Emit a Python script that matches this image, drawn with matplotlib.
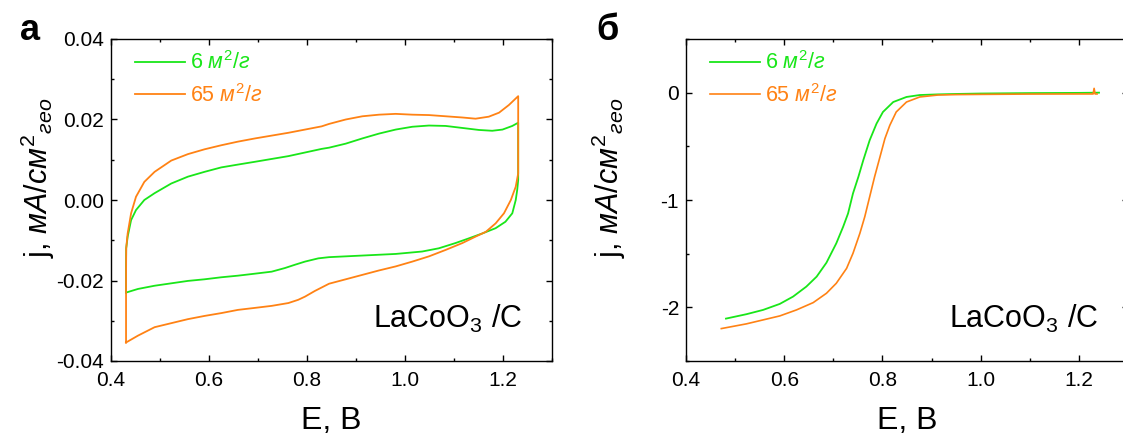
import matplotlib
matplotlib.use("Agg")
import matplotlib.pyplot as plt
from matplotlib.ticker import MultipleLocator, FormatStrFormatter

plt.rcParams['font.family'] = ['Liberation Sans', 'DejaVu Sans']
plt.rcParams['mathtext.fontset'] = 'custom'
plt.rcParams['mathtext.rm'] = 'Liberation Sans'
plt.rcParams['mathtext.it'] = 'Liberation Sans:italic'
plt.rcParams['mathtext.bf'] = 'Liberation Sans:bold'

GREEN = '#19e619'
ORANGE = '#ff8214'

# ---- Panel a: cyclic voltammograms ----
cv6_E = [0.4307, 0.4307, 0.431, 0.434, 0.441, 0.451, 0.468, 0.489, 0.523, 0.557, 0.591, 0.625, 0.659,
         0.694, 0.728, 0.762, 0.796, 0.830, 0.845, 0.879, 0.913, 0.947, 0.981, 1.015, 1.049, 1.083,
         1.117, 1.151, 1.178, 1.199, 1.219, 1.231,
         1.231, 1.229, 1.226, 1.219, 1.205, 1.185, 1.158, 1.131, 1.103, 1.069, 1.035, 0.981, 0.913,
         0.845, 0.823, 0.796, 0.775, 0.755, 0.728, 0.694, 0.659, 0.625, 0.591, 0.557, 0.523, 0.489,
         0.455, 0.4307]
cv6_j = [-0.0230, -0.0160, -0.0120, -0.0091, -0.0050, -0.0025, 0.0000, 0.0017, 0.0041, 0.0058, 0.0070, 0.0081, 0.0088,
         0.0095, 0.0102, 0.0109, 0.0118, 0.0127, 0.0130, 0.0140, 0.0153, 0.0165, 0.0175, 0.0182, 0.0185, 0.0184,
         0.0179, 0.0174, 0.0172, 0.0175, 0.0184, 0.0192,
         0.0050, 0.0025, 0.0000, -0.0033, -0.0054, -0.0070, -0.0083, -0.0095, -0.0107, -0.0120, -0.0128, -0.0134, -0.0138,
         -0.0142, -0.0145, -0.0153, -0.0161, -0.0169, -0.0178, -0.0183, -0.0188, -0.0192, -0.0197, -0.0201, -0.0207, -0.0213,
         -0.0221, -0.0230]

cv65_E = [0.4307, 0.4307, 0.431, 0.434, 0.441, 0.451, 0.468, 0.489, 0.523, 0.557, 0.591, 0.625, 0.659,
          0.694, 0.728, 0.762, 0.796, 0.830, 0.845, 0.879, 0.913, 0.947, 0.981, 1.015, 1.049, 1.083,
          1.117, 1.144, 1.171, 1.192, 1.212, 1.231,
          1.231, 1.226, 1.216, 1.202, 1.185, 1.165, 1.144, 1.117, 1.083, 1.049, 1.015, 0.981, 0.947,
          0.913, 0.879, 0.845, 0.816, 0.796, 0.782, 0.762, 0.728, 0.694, 0.659, 0.625, 0.591, 0.557,
          0.523, 0.489, 0.455, 0.4307]
cv65_j = [-0.0354, -0.0200, -0.0120, -0.0083, -0.0033, 0.0008, 0.0045, 0.0070, 0.0098, 0.0114, 0.0126, 0.0136, 0.0145,
          0.0153, 0.0160, 0.0167, 0.0175, 0.0183, 0.0189, 0.0200, 0.0208, 0.0212, 0.0214, 0.0212, 0.0211, 0.0208,
          0.0205, 0.0202, 0.0207, 0.0217, 0.0236, 0.0258,
          0.0066, 0.0033, 0.0000, -0.0033, -0.0058, -0.0079, -0.0091, -0.0107, -0.0124, -0.0140, -0.0153, -0.0165, -0.0175,
          -0.0186, -0.0197, -0.0208, -0.0226, -0.0240, -0.0248, -0.0256, -0.0263, -0.0268, -0.0273, -0.0281, -0.0288, -0.0296,
          -0.0306, -0.0316, -0.0337, -0.0354]

# ---- Panel b: polarisation curves ----
lsv6_E = [0.4814, 0.523, 0.557, 0.591, 0.618, 0.645, 0.666, 0.686, 0.706, 0.720, 0.730, 0.740, 0.751,
          0.761, 0.774, 0.788, 0.801, 0.822, 0.849, 0.876, 0.913, 0.950, 1.000, 1.100, 1.200, 1.241]
lsv6_j = [-2.105, -2.064, -2.024, -1.968, -1.900, -1.807, -1.714, -1.584, -1.404, -1.249, -1.125, -0.939, -0.784,
          -0.629, -0.443, -0.288, -0.180, -0.087, -0.040, -0.022, -0.016, -0.012, -0.008, -0.004, -0.002, 0.000]

lsv65_E = [0.4719, 0.523, 0.557, 0.591, 0.625, 0.659, 0.686, 0.706, 0.727, 0.740, 0.754, 0.764, 0.774,
           0.784, 0.795, 0.805, 0.815, 0.828, 0.849, 0.876, 0.913, 0.950, 1.000, 1.100, 1.200, 1.229,
           1.231, 1.233, 1.237]
lsv65_j = [-2.198, -2.154, -2.117, -2.080, -2.024, -1.956, -1.869, -1.776, -1.637, -1.497, -1.311, -1.156, -0.970,
           -0.784, -0.598, -0.428, -0.304, -0.180, -0.087, -0.040, -0.022, -0.018, -0.016, -0.013, -0.012, -0.012,
           0.040, -0.012, -0.012]

legend_labels = ['6 $\\it{м}^{2}\\it{/г}$', '65 $\\it{м}^{2}\\it{/г}$']
ylabel = 'j, $\\it{мА/см}^{2}{}_{\\it{гео}}$'
xlabel = 'E, В'
note = 'LaCoO$_{3}$ /C'
panel_labels = ['а', 'б']

W, H = 1123, 437
fig = plt.figure(figsize=(W / 100, H / 100), dpi=100)
axa = fig.add_axes([111 / W, 1 - 361 / H, 441 / W, 322 / H])
axb = fig.add_axes([686 / W, 1 - 361 / H, 442 / W, 322 / H])


def style(ax, label_x):
    ax.tick_params(which='both', direction='in', top=True, right=True, labelsize=15, width=1.0)
    ax.tick_params(which='major', length=4.5)
    ax.tick_params(which='minor', length=2.5)
    ax.tick_params(axis='x', pad=7)
    ax.tick_params(axis='y', pad=5)
    for s in ax.spines.values():
        s.set_linewidth(1.0)
    ax.set_xlim(0.4, 1.3)
    ax.xaxis.set_major_locator(MultipleLocator(0.2))
    ax.xaxis.set_minor_locator(MultipleLocator(0.1))
    ax.xaxis.set_major_formatter(FormatStrFormatter('%.1f'))
    ax.set_xlabel(xlabel, fontsize=23, labelpad=12)
    ax.set_ylabel(ylabel, fontsize=22)
    ax.yaxis.set_label_coords(label_x, 0.57)


def add_legend(ax, lines):
    leg = ax.legend(lines, legend_labels, loc='upper left', frameon=False, fontsize=15.5,
                    handlelength=2.3, handletextpad=0.25, borderaxespad=0.0, borderpad=0.0,
                    labelspacing=0.45, bbox_to_anchor=(0.055, 0.962))
    for t, c in zip(leg.get_texts(), [GREEN, ORANGE]):
        t.set_color(c)


l1, = axa.plot(cv6_E, cv6_j, color=GREEN, lw=1.3)
l2, = axa.plot(cv65_E, cv65_j, color=ORANGE, lw=1.3)
style(axa, -54 / 441)
axa.set_ylim(-0.04, 0.04)
axa.yaxis.set_major_locator(MultipleLocator(0.02))
axa.yaxis.set_minor_locator(MultipleLocator(0.01))
axa.yaxis.set_major_formatter(FormatStrFormatter('%.2f'))
add_legend(axa, [l1, l2])
axa.text(0.933, 0.1025, note, transform=axa.transAxes, ha='right', va='baseline', fontsize=22)
fig.text(20 / W, 1 - 40 / H, panel_labels[0], fontsize=26, fontweight='bold', ha='left', va='baseline')

m1, = axb.plot(lsv6_E, lsv6_j, color=GREEN, lw=1.3)
m2, = axb.plot(lsv65_E, lsv65_j, color=ORANGE, lw=1.2)
style(axb, -58 / 442)
axb.set_ylim(-2.5, 0.5)
axb.yaxis.set_major_locator(MultipleLocator(1))
axb.yaxis.set_minor_locator(MultipleLocator(0.5))
axb.yaxis.set_major_formatter(FormatStrFormatter('%d'))
add_legend(axb, [m1, m2])
axb.text(0.933, 0.1025, note, transform=axb.transAxes, ha='right', va='baseline', fontsize=22)
fig.text(596 / W, 1 - 40 / H, panel_labels[1], fontsize=26, fontweight='bold', ha='left', va='baseline')

fig.savefig('out.png', dpi=100)
